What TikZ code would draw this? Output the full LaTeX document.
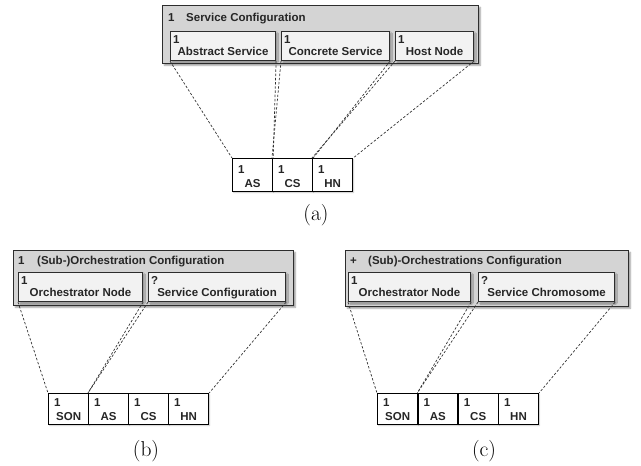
\documentclass[tikz,border=0pt]{standalone}
\usepackage{fontspec}
\newfontfamily\diagfont{Liberation Sans}
\usetikzlibrary{shadows.blur}
\definecolor{outerfill}{RGB}{212,212,212}
\definecolor{innerfill}{RGB}{242,242,242}
\definecolor{edgegray}{RGB}{45,45,45}
\definecolor{dashgray}{RGB}{50,50,50}
\begin{document}
\begin{tikzpicture}[x=1pt,y=-1pt,
  outerbox/.style={draw=edgegray, line width=1.1pt, fill=outerfill, anchor=north west, inner sep=0pt,
    blur shadow={shadow xshift=1.8pt, shadow yshift=-1.8pt, shadow blur radius=1.5pt, shadow opacity=40}},
  innerbox/.style={draw=edgegray, line width=1.1pt, fill=innerfill, anchor=north west, inner sep=0pt,
    blur shadow={shadow xshift=1.5pt, shadow yshift=-1.5pt, shadow blur radius=1.2pt, shadow opacity=35}},
  slotbox/.style={draw=black, line width=1.2pt, fill=white, anchor=north west, inner sep=0pt,
    minimum width=40pt, blur shadow={shadow xshift=1pt, shadow yshift=-1pt, shadow blur radius=1pt, shadow opacity=25}},
  lbl/.style={font=\diagfont\bfseries\fontsize{11.5}{13}\selectfont, inner sep=0pt, text=black!85},
  caption/.style={font=\fontsize{21.5}{26}\selectfont, inner sep=0pt, anchor=base},
  link/.style={draw=dashgray, line width=0.7pt, dash pattern=on 2.4pt off 1.8pt}
]
\useasboundingbox (0,0) rectangle (641,466);

% ================= (a) =================
\node[outerbox, minimum width=316pt, minimum height=58pt] (aout) at (162,5) {};
\node[lbl, anchor=base west] (at1) at (168,21) {1};
\node[lbl, anchor=base west] (at2) at (186,21) {Service Configuration};

\node[innerbox, minimum width=105pt, minimum height=29pt] (aabs) at (170,31) {};
\node[innerbox, minimum width=108pt, minimum height=29pt] (acon) at (281,31) {};
\node[innerbox, minimum width=78pt, minimum height=29pt] (ahost) at (395,31) {};
\node[lbl, anchor=base west] (aabs1) at ([shift={(3pt,-12pt)}]aabs.north west) {1};
\node[lbl, anchor=base] (aabs2) at ([yshift=-24.5pt]aabs.north) {Abstract Service};
\node[lbl, anchor=base west] (acon1) at ([shift={(3pt,-12pt)}]acon.north west) {1};
\node[lbl, anchor=base] (acon2) at ([yshift=-24.5pt]acon.north) {Concrete Service};
\node[lbl, anchor=base west] (ahost1) at ([shift={(3pt,-12pt)}]ahost.north west) {1};
\node[lbl, anchor=base] (ahost2) at ([yshift=-24.5pt]ahost.north) {Host Node};

\node[slotbox, minimum height=33pt] (aas) at (232,158) {};
\node[slotbox, minimum height=33pt] (acs) at (272,158) {};
\node[slotbox, minimum height=33pt] (ahn) at (312,158) {};
\foreach \n/\t in {aas/AS, acs/CS, ahn/HN}{
  \node[lbl, anchor=base west] (\n1) at ([shift={(6pt,-15pt)}]\n.north west) {1};
  \node[lbl, anchor=base] (\n2) at ([yshift=-29pt]\n.north) {\t};
}
\draw[link] (aabs.south west) -- (aas.north west);
\draw[link] (aabs.south east) -- (aas.north east);
\draw[link] (acon.south west) -- (acs.north west);
\draw[link] (acon.south east) -- (acs.north east);
\draw[link] (ahost.south west) -- (ahn.north west);
\draw[link] (ahost.south east) -- (ahn.north east);
\node[caption] (capa) at (316,220) {(a)};

% ================= (b) =================
\node[outerbox, minimum width=280pt, minimum height=55pt] (bout) at (13,250) {};
\node[lbl, anchor=base west] (bt1) at (18,264) {1};
\node[lbl, anchor=base west] (bt2) at (37,264) {(Sub-)Orchestration Configuration};

\node[innerbox, minimum width=124pt, minimum height=29pt] (bon) at (18,272) {};
\node[innerbox, minimum width=137pt, minimum height=29pt] (bsc) at (148,272) {};
\node[lbl, anchor=base west] (bon1) at ([shift={(3pt,-12pt)}]bon.north west) {1};
\node[lbl, anchor=base] (bon2) at ([yshift=-24.5pt]bon.north) {Orchestrator Node};
\node[lbl, anchor=base west] (bsc1) at ([shift={(3pt,-12pt)}]bsc.north west) {?};
\node[lbl, anchor=base] (bsc2) at ([yshift=-24.5pt]bsc.north) {Service Configuration};

\node[slotbox, minimum height=31pt] (bson) at (48,393) {};
\node[slotbox, minimum height=31pt] (bas) at (88,393) {};
\node[slotbox, minimum height=31pt] (bcs) at (128,393) {};
\node[slotbox, minimum height=31pt] (bhn) at (168,393) {};
\foreach \n/\t in {bson/SON, bas/AS, bcs/CS, bhn/HN}{
  \node[lbl, anchor=base west] (\n1) at ([shift={(6pt,-13.5pt)}]\n.north west) {1};
  \node[lbl, anchor=base] (\n2) at ([yshift=-27pt]\n.north) {\t};
}
\draw[link] (bon.south west) -- (bson.north west);
\draw[link] (bon.south east) -- (bas.north west);
\draw[link] (bsc.south west) -- (bas.north west);
\draw[link] (bsc.south east) -- (bhn.north east);
\node[caption] (capb) at (146,456) {(b)};

% ================= (c) =================
\node[outerbox, minimum width=283pt, minimum height=56pt] (cout) at (345,250) {};
\node[lbl, anchor=base west] (ct1) at (350,264) {+};
\node[lbl, anchor=base west] (ct2) at (368,264) {(Sub)-Orchestrations Configuration};

\node[innerbox, minimum width=122pt, minimum height=29pt] (con) at (348,272) {};
\node[innerbox, minimum width=136pt, minimum height=29pt] (csc) at (478,272) {};
\node[lbl, anchor=base west] (con1) at ([shift={(3pt,-12pt)}]con.north west) {1};
\node[lbl, anchor=base] (con2) at ([yshift=-24.5pt]con.north) {Orchestrator Node};
\node[lbl, anchor=base west] (csc1) at ([shift={(3pt,-12pt)}]csc.north west) {?};
\node[lbl, anchor=base] (csc2) at ([yshift=-24.5pt]csc.north) {Service Chromosome};

\node[slotbox, minimum height=31pt] (cson) at (377,393) {};
\node[slotbox, minimum height=31pt] (cas) at (417.3,393) {};
\node[slotbox, minimum height=31pt] (ccs) at (457.6,393) {};
\node[slotbox, minimum height=31pt] (chn) at (497.9,393) {};
\foreach \n/\t in {cson/SON, cas/AS, ccs/CS, chn/HN}{
  \node[lbl, anchor=base west] (\n1) at ([shift={(6pt,-13.5pt)}]\n.north west) {1};
  \node[lbl, anchor=base] (\n2) at ([yshift=-27pt]\n.north) {\t};
}
\draw[link] (con.south west) -- (cson.north west);
\draw[link] (con.south east) -- (cas.north west);
\draw[link] (csc.south west) -- (cas.north west);
\draw[link] (csc.south east) -- (chn.north east);
\node[caption] (capc) at (484,456) {(c)};
\end{tikzpicture}
\end{document}
